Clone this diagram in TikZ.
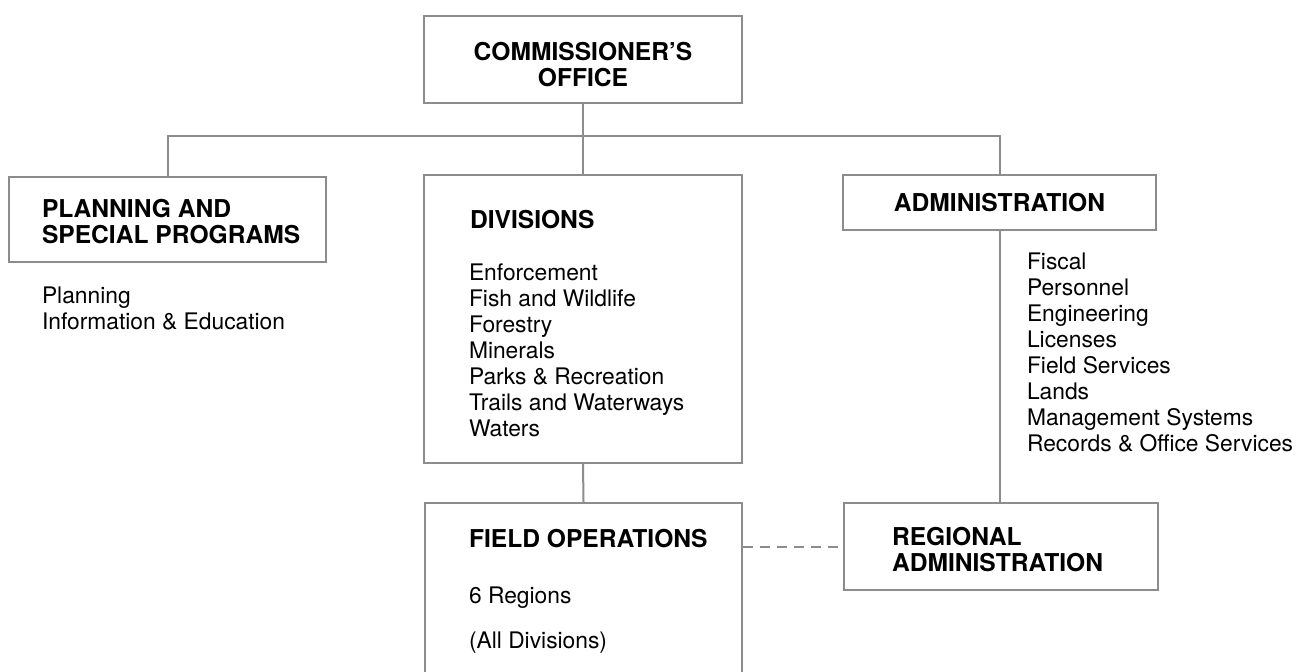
\documentclass[tikz,border=0pt]{standalone}
\usepackage{fontspec}
\setmainfont{TeX Gyre Heros}
\usetikzlibrary{positioning}

\begin{document}
\begin{tikzpicture}
  [
    x = 0.5pt, y = -0.5pt,
    line width = 1pt,
    every node/.style = {inner sep = 0pt},
    box/.style = {draw = black!45, rectangle, anchor = north west},
    head/.style = {font = \fontsize{12.3}{13}\selectfont\bfseries, align = left},
    item/.style = {font = \fontsize{11.4}{13}\selectfont, align = left},
    link/.style = {draw = black!45}
  ]
  \clip (0,0) rectangle (1305,671);
  % boxes
  \node[box, head, align = center, minimum width = 159pt, minimum height = 43.5pt, text height = 27pt, text depth = 0pt] (Comm) at (423,15) {COMMISSIONER'S\\OFFICE};
  \node[box, minimum width = 158.5pt, minimum height = 42.5pt] (Plan) at (8,176) {};
  \node[box, minimum width = 159pt, minimum height = 144pt] (Div) at (423,174) {};
  \node[box, head, align = center, minimum width = 156.5pt, minimum height = 27.5pt] (Admin) at (842,174) {ADMINISTRATION};
  \node[box, minimum width = 158.5pt, minimum height = 110pt] (Field) at (424,502) {};
  \node[box, minimum width = 157pt, minimum height = 43.5pt] (Region) at (843,502) {};
  % texts (base = baseline of the last line)
  \node[head, anchor = base west] (PlanHead) at (41,243) {PLANNING AND\\SPECIAL PROGRAMS};
  \node[item, anchor = base west] (PlanList) at (41,329) {Planning\\Information \& Education};
  \node[head, anchor = base west] (DivHead) at (469,228) {DIVISIONS};
  \node[item, anchor = base west] (DivList) at (468,436)
    {Enforcement\\Fish and Wildlife\\Forestry\\Minerals\\Parks \& Recreation\\Trails and Waterways\\Waters};
  \node[item, anchor = base west] (AdminList) at (1026,451)
    {Fiscal\\Personnel\\Engineering\\Licenses\\Field Services\\Lands\\Management Systems\\Records \& Office Services};
  \node[head, anchor = base west] (FieldHead) at (468,547) {FIELD OPERATIONS};
  \node[item, anchor = base west] (FieldRegions) at (468,603) {6 Regions};
  \node[item, anchor = base west] (FieldAll) at (468,648) {(All Divisions)};
  \node[head, anchor = base west] (RegionHead) at (891,571) {REGIONAL\\ADMINISTRATION};
  % connectors
  \coordinate (Bus) at (Comm.south |- 0,136);
  \draw[link] (Comm.south) -- (Bus);
  \draw[link] (Plan.north) |- (Bus) -| (Admin.north);
  \draw[link] (Bus) -- (Div.north);
  \draw[link] (Div.south) -- (Field.north);
  \draw[link] (Admin.south) -- (Admin.south |- Region.north);
  \draw[link, dash pattern = on 5pt off 3.5pt] (Region.west -| Field.east) -- (Region.west);
\end{tikzpicture}
\end{document}
